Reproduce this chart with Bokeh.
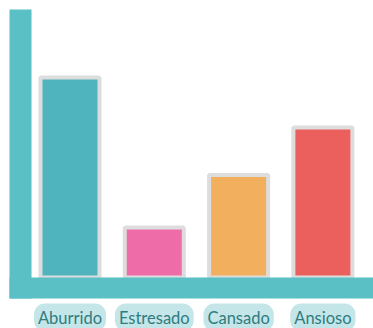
import numpy as np
from bokeh.plotting import figure
from bokeh.models import Range1d, BoxAnnotation, ColumnDataSource
from bokeh.core.properties import value
from bokeh.embed import file_html
from bokeh.resources import INLINE

# ---- data ----
categories = ["Aburrido", "Estresado", "Cansado", "Ansioso"]
values = [8, 2, 4.1, 6]
bar_colors = ["#4fb4be", "#ee6ca7", "#f2b05e", "#eb605d"]

# ---- layout (pixels) ----
W, H = 373, 328
PX_X = 84.3          # px per category slot
PX_Y = 25.0          # px per value unit
base_px = 277        # baseline from top
first_center_px = 69.5

x0 = -first_center_px / PX_X
x1 = x0 + W / PX_X
y1 = base_px / PX_Y
y0 = -(H - base_px) / PX_Y

p = figure(width=W, height=H, output_backend="svg", toolbar_location=None,
           x_range=Range1d(x0, x1), y_range=Range1d(y0, y1),
           min_border=0, outline_line_color=None)
p.axis.visible = False
p.grid.visible = False
p.background_fill_color = "white"
p.border_fill_color = "white"

src = ColumnDataSource(dict(x=np.arange(len(categories)), top=values,
                            color=bar_colors, label=categories,
                            ly=[-(317 - base_px) / PX_Y] * len(categories)))

p.vbar(x="x", top="top", bottom=0, width=0.70, source=src,
       fill_color="color", line_color="#dddddd", line_width=4)

teal = "#5bbfc6"
axis_th = 21 / PX_Y
# vertical axis bar
p.add_layout(BoxAnnotation(left=x0 + 9 / PX_X, right=x0 + 31 / PX_X,
                           bottom=-axis_th, top=y1 - 9 / PX_Y,
                           fill_color=teal, fill_alpha=1, line_color=None))
# horizontal axis bar
p.add_layout(BoxAnnotation(left=x0 + 9 / PX_X, bottom=-axis_th, top=0,
                           fill_color=teal, fill_alpha=1, line_color=None))

p.text(x="x", y="ly", text="label", source=src,
       text_font=value("Lato"), text_font_size="16.5px",
       text_color="#2e7c80", text_align="center", text_baseline="middle",
       background_fill_color="#c5e6e8", border_radius=11, padding=4)

open("out.html", "w").write(file_html(p, INLINE))
